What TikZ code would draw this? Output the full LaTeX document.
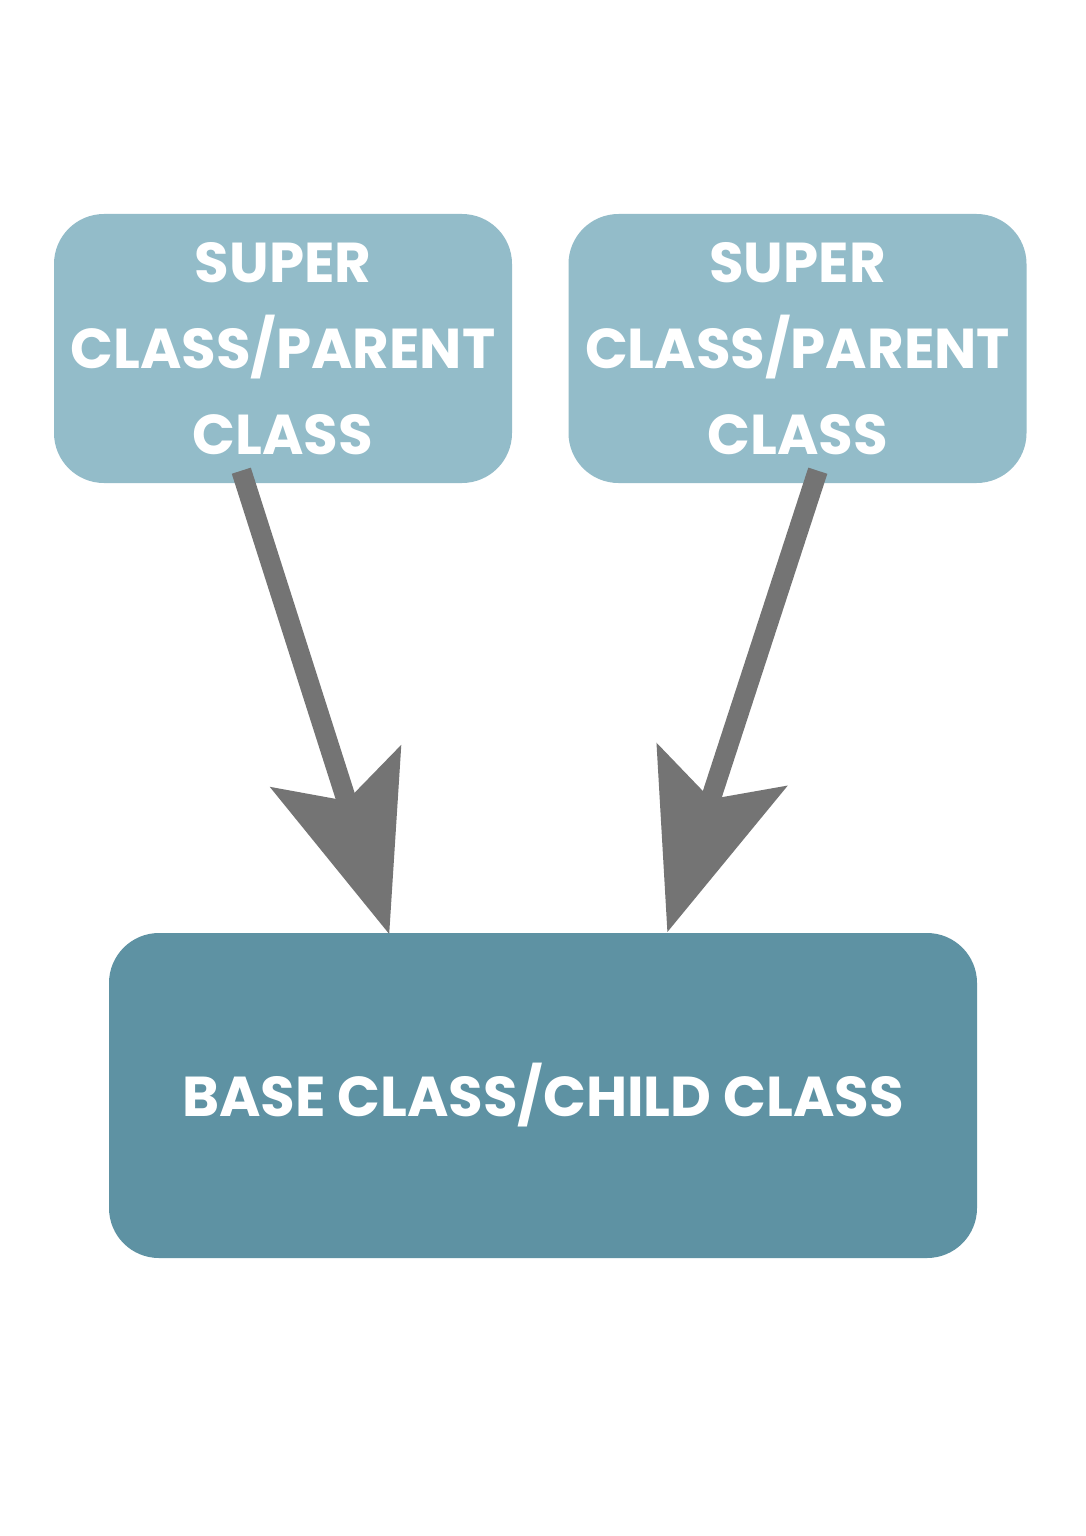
\documentclass[tikz,border=0pt]{standalone}
\usepackage{fontspec}
\setmainfont{Poppins}[BoldFont={* Bold}]
\usetikzlibrary{positioning,calc,arrows.meta}
\definecolor{parentblue}{HTML}{93BCC9}
\definecolor{childblue}{HTML}{5E92A3}
\definecolor{arrowgray}{HTML}{747474}
\tikzset{
    % boxes for the classes
    parentbox/.style={fill=parentblue, rounded corners=0.5cm, align=center,
                      minimum width=4.58cm, minimum height=2.69cm,
                      text=white, font=\bfseries\fontsize{16}{24.5}\selectfont},
    childbox/.style={fill=childblue, rounded corners=0.5cm, align=center,
                     minimum width=8.68cm, minimum height=3.25cm,
                     text=white, font=\bfseries\fontsize{16}{24.5}\selectfont},
    % thick inheritance arrow
    inherit/.style={draw=arrowgray, line width=0.2cm,
                    -{Stealth[length=1.75cm,width=1.35cm,inset=0.35cm]}}
}
\begin{document}
\begin{tikzpicture}
    \useasboundingbox[fill=white] (0,0) rectangle (10.86,-15.36);
    \node[parentbox] (lp) at (2.83,-3.485) {SUPER\\CLASS/PARENT\\CLASS};
    \node[parentbox] (rp) at (7.975,-3.485) {SUPER\\CLASS/PARENT\\CLASS};
    \node[childbox] (base) at (5.43,-10.955) {BASE CLASS/CHILD CLASS};
    \coordinate (ls) at ($(lp.south west)+(1.88,0.13)$);
    \coordinate (rs) at ($(rp.south west)+(2.50,0.13)$);
    \coordinate (lt) at ($(base.north west)+(2.81,-0.02)$);
    \coordinate (rt) at ($(base.north west)+(5.59,0)$);
    \draw[inherit] (ls) -- (lt);
    \draw[inherit] (rs) -- (rt);
\end{tikzpicture}
\end{document}
